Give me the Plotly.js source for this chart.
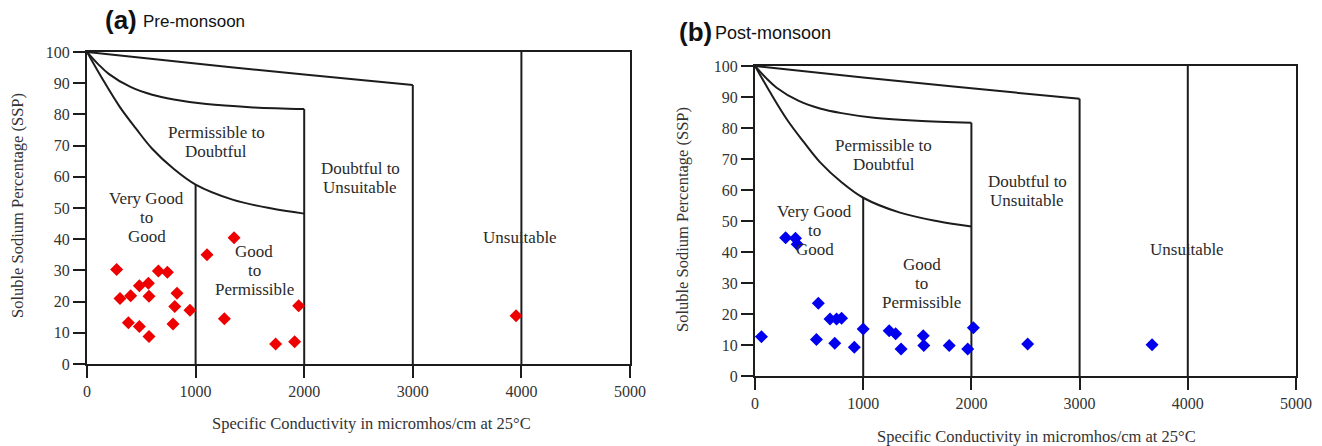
<!DOCTYPE html>
<html>
<head>
<meta charset="utf-8">
<script src="https://cdn.plot.ly/plotly-3.0.1.min.js"></script>
<style>html,body{margin:0;padding:0;background:#fff;}#chart{width:1322px;height:446px;}</style>
</head>
<body>
<div id="chart"></div>
<script>
// ---- Data ----
// Pre-monsoon samples (EC, SSP)
const preEC  = [273, 304, 402, 381, 482, 482, 565, 571, 571, 657, 740, 829, 808, 792, 948, 1105, 1354, 1265, 1737, 1912, 1949, 3951];
const preSSP = [30.3, 21.0, 21.9, 13.2, 25.1, 12.0, 25.9, 21.7, 8.8, 29.8, 29.4, 22.7, 18.4, 12.8, 17.2, 35.0, 40.5, 14.5, 6.4, 7.1, 18.7, 15.5];
// Post-monsoon samples (EC, SSP)
const postEC  = [60, 283, 374, 390, 585, 568, 693, 754, 800, 737, 918, 1000, 1240, 1300, 1350, 1555, 1560, 1795, 1966, 2018, 2520, 3670];
const postSSP = [12.7, 44.6, 44.4, 42.5, 23.5, 11.8, 18.4, 18.4, 18.6, 10.6, 9.3, 15.2, 14.6, 13.6, 8.7, 13.0, 9.8, 9.8, 8.7, 15.6, 10.3, 10.1];

// Wilcox diagram boundaries
const topCurveX = [0, 1000, 2000, 3000];
const topCurveY = [100, 96.3, 92.8, 89.4];
const midCurveX = [0, 100, 200, 400, 600, 800, 1100, 1500, 2000];
const midCurveY = [100, 96.2, 93.0, 88.8, 86.3, 84.8, 83.3, 82.3, 81.7];
const lowCurveX = [0, 140, 300, 450, 600, 800, 1000, 1340, 1690, 2000];
const lowCurveY = [100, 91.5, 82.5, 75.5, 69.0, 62.5, 57.5, 52.7, 49.9, 48.2];
const dividerX   = [1000, 2000, 3000, 4000];
const dividerTop = [57.5, 81.7, 89.4, 100];

// Region labels
const regionText = ["Permissible to<br>Doubtful", "Doubtful to<br>Unsuitable", "Very Good<br>to<br>Good", "Good<br>to<br>Permissible", "Unsuitable"];
const regionX = [1190, 2515, 550, 1540, 3990];
const regionY = [71.3, 59.6, 47, 29.9, 40.7];

const xTicks = [0, 1000, 2000, 3000, 4000, 5000];
const yTicks = [0, 10, 20, 30, 40, 50, 60, 70, 80, 90, 100];

const panelTags   = ["(a)", "(b)"];
const panelNames  = ["Pre-monsoon", "Post-monsoon"];
const xTitle = "Specific Conductivity in micromhos/cm at 25°C";
const yTitle = "Soluble Sodium Percentage (SSP)";

// ---- Build ----
const W = 1322, H = 446;
const ink = '#1c1c1c';
const serif = 'Liberation Serif, Times New Roman, serif';
const sans = 'Liberation Sans, Arial, sans-serif';

function boundaryTraces(xa, ya) {
  const t = [];
  const ln = {color: ink, width: 2, shape: 'spline', smoothing: 1};
  t.push({x: topCurveX, y: topCurveY, xaxis: xa, yaxis: ya, mode: 'lines', line: ln, hoverinfo: 'skip', showlegend: false});
  t.push({x: midCurveX, y: midCurveY, xaxis: xa, yaxis: ya, mode: 'lines', line: ln, hoverinfo: 'skip', showlegend: false});
  t.push({x: lowCurveX, y: lowCurveY, xaxis: xa, yaxis: ya, mode: 'lines', line: ln, hoverinfo: 'skip', showlegend: false});
  dividerX.forEach((dx, i) => {
    t.push({x: [dx, dx], y: [0, dividerTop[i]], xaxis: xa, yaxis: ya, mode: 'lines',
            line: {color: ink, width: 2}, hoverinfo: 'skip', showlegend: false});
  });
  return t;
}

const traces = [
  ...boundaryTraces('x', 'y'),
  ...boundaryTraces('x2', 'y2'),
  {x: preEC, y: preSSP, xaxis: 'x', yaxis: 'y', mode: 'markers', showlegend: false,
   marker: {symbol: 'diamond', size: 10, color: '#ee0000'}},
  {x: postEC, y: postSSP, xaxis: 'x2', yaxis: 'y2', mode: 'markers', showlegend: false,
   marker: {symbol: 'diamond', size: 10, color: '#0000ee'}}
];

function xAxis(dom, anchor) {
  return {domain: dom, anchor: anchor, range: [0, 5000], tickvals: xTicks, ticktext: xTicks.map(String),
    showgrid: false, zeroline: false, showline: true, linecolor: ink, linewidth: 2, mirror: true,
    ticks: 'outside', ticklen: 12, tickwidth: 2, tickcolor: ink,
    tickfont: {family: serif, size: 16, color: '#333'}};
}
function yAxis(dom, anchor) {
  return {domain: dom, anchor: anchor, range: [0, 100], tickvals: yTicks, ticktext: yTicks.map(String),
    showgrid: false, zeroline: false, showline: true, linecolor: ink, linewidth: 2, mirror: true,
    ticks: 'outside', ticklen: 12, tickwidth: 2, tickcolor: ink,
    tickfont: {family: serif, size: 16, color: '#333'}};
}

const pa = {x0: 87, x1: 630, yTop: 52, yBot: 364};
const pb = {x0: 755, x1: 1296, yTop: 66, yBot: 376};

const annotations = [];
const lineGap = 19;
[['x', 'y'], ['x2', 'y2']].forEach(([xr, yr]) => {
  regionText.forEach((txt, i) => {
    const lines = txt.split('<br>');
    lines.forEach((ln, k) => {
      annotations.push({x: regionX[i], y: regionY[i], xref: xr, yref: yr, text: ln, showarrow: false,
        xanchor: 'center', yanchor: 'middle', yshift: ((lines.length - 1) / 2 - k) * lineGap,
        font: {family: serif, size: 17, color: '#2a2a2a'}});
    });
  });
});
function px(xp) { return xp / W; }
function py(yp) { return 1 - yp / H; }
function paperText(x, y, text, font, extra) {
  return Object.assign({x: px(x), y: py(y), xref: 'paper', yref: 'paper', text: text, showarrow: false,
    xanchor: 'center', yanchor: 'middle', font: font}, extra || {});
}
// panel titles
annotations.push(paperText(103, 20, '<b>' + panelTags[0] + '</b>', {family: sans, size: 26, color: '#111'}, {xanchor: 'left'}));
annotations.push(paperText(141, 21, panelNames[0], {family: sans, size: 17, color: '#111'}, {xanchor: 'left'}));
annotations.push(paperText(677, 32, '<b>' + panelTags[1] + '</b>', {family: sans, size: 26, color: '#111'}, {xanchor: 'left'}));
annotations.push(paperText(713, 33, panelNames[1], {family: sans, size: 18, color: '#111'}, {xanchor: 'left'}));
// axis titles
annotations.push(paperText(371, 423, xTitle, {family: serif, size: 16.5, color: '#333'}));
annotations.push(paperText(1036, 436, xTitle, {family: serif, size: 16.5, color: '#333'}));
annotations.push(paperText(17, 206, yTitle, {family: serif, size: 16.5, color: '#333'}, {textangle: -90}));
annotations.push(paperText(682, 220, yTitle, {family: serif, size: 16.5, color: '#333'}, {textangle: -90}));

const layout = {
  width: W, height: H,
  margin: {l: 0, r: 0, t: 0, b: 0},
  paper_bgcolor: '#fff', plot_bgcolor: '#fff',
  showlegend: false,
  xaxis: xAxis([px(pa.x0), px(pa.x1)], 'y'),
  yaxis: yAxis([py(pa.yBot), py(pa.yTop)], 'x'),
  xaxis2: xAxis([px(pb.x0), px(pb.x1)], 'y2'),
  yaxis2: yAxis([py(pb.yBot), py(pb.yTop)], 'x2'),
  annotations: annotations
};

Plotly.newPlot('chart', traces, layout, {staticPlot: true, displayModeBar: false});
</script>
</body>
</html>
